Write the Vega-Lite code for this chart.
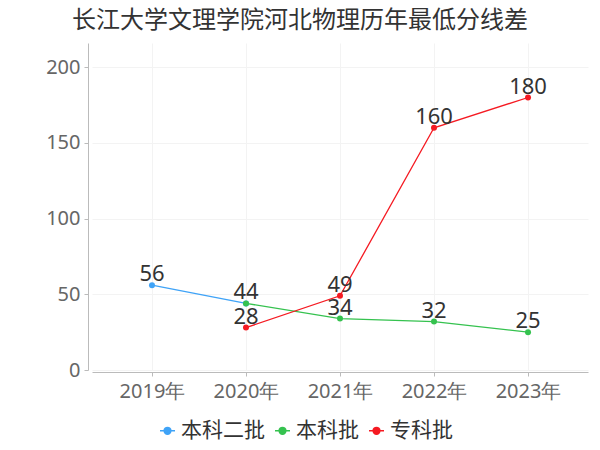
{
  "$schema": "https://vega.github.io/schema/vega-lite/v6.json",
  "autosize": "none",
  "width": 496,
  "height": 327,
  "padding": {"left": 92, "top": 43, "right": 12, "bottom": 80},
  "background": "white",
  "title": {
    "text": "长江大学文理学院河北物理历年最低分线差",
    "fontSize": 24,
    "font": "Noto Sans CJK SC",
    "fontWeight": "normal",
    "color": "#333333",
    "anchor": "middle",
    "dx": -40,
    "offset": 10
  },
  "data": {
    "values": [
      {"year": "2019年", "value": 56, "series": "本科二批"},
      {"year": "2020年", "value": 44, "series": "本科二批"},
      {"year": "2020年", "value": 44, "series": "本科批"},
      {"year": "2021年", "value": 34, "series": "本科批"},
      {"year": "2022年", "value": 32, "series": "本科批"},
      {"year": "2023年", "value": 25, "series": "本科批"},
      {"year": "2020年", "value": 28, "series": "专科批"},
      {"year": "2021年", "value": 49, "series": "专科批"},
      {"year": "2022年", "value": 160, "series": "专科批"},
      {"year": "2023年", "value": 180, "series": "专科批"}
    ]
  },
  "encoding": {
    "x": {
      "field": "year",
      "type": "ordinal",
      "sort": ["2019年", "2020年", "2021年", "2022年", "2023年"],
      "scale": {"type": "point", "padding": 0.638},
      "axis": {
        "title": null,
        "labelAngle": 0,
        "labelFont": "Noto Sans",
        "labelFontSize": 20,
        "labelColor": "#666666",
        "labelPadding": 5,
        "tickSize": 4,
        "tickColor": "#bbbbbb",
        "domainColor": "#bbbbbb",
        "offset": 2,
        "grid": true,
        "gridColor": "#f3f3f3"
      }
    },
    "y": {
      "field": "value",
      "type": "quantitative",
      "scale": {"domain": [0, 216], "nice": false},
      "axis": {
        "title": null,
        "values": [0, 50, 100, 150, 200],
        "labelFont": "Noto Sans",
        "labelFontSize": 20,
        "labelColor": "#666666",
        "labelPadding": 4,
        "tickSize": 4,
        "tickColor": "#bbbbbb",
        "domainColor": "#bbbbbb",
        "offset": 4,
        "grid": true,
        "gridColor": "#f3f3f3"
      }
    },
    "color": {
      "field": "series",
      "type": "nominal",
      "scale": {
        "domain": ["本科二批", "本科批", "专科批"],
        "range": ["#3fa3f7", "#35c24f", "#f51a22"]
      },
      "legend": {
        "title": null,
        "orient": "none",
        "direction": "horizontal",
        "legendX": 65,
        "legendY": 377,
        "labelFont": "Noto Sans CJK SC",
        "labelFontSize": 21,
        "labelColor": "#333333",
        "labelOffset": 3,
        "columnPadding": 7,
        "symbolType": "M -1 0 L -0.45 0 M 0.45 0 L 1 0 M 0.45 0 A 0.45 0.45 0 1 1 -0.45 0 A 0.45 0.45 0 1 1 0.45 0 Z",
        "symbolSize": 225,
        "symbolStrokeWidth": 1.5,
        "symbolOpacity": 1,
        "encode": {
          "symbols": {
            "update": {
              "fill": {"scale": "color", "field": "value"},
              "stroke": {"scale": "color", "field": "value"},
              "fillOpacity": {"value": 1},
              "strokeOpacity": {"value": 1}
            }
          }
        }
      }
    }
  },
  "layer": [
    {
      "mark": {"type": "line", "strokeWidth": 1.3},
      "encoding": {"detail": {"field": "series"}}
    },
    {
      "mark": {"type": "point", "filled": true, "size": 36, "opacity": 1}
    },
    {
      "transform": [{"filter": "!(datum.series == '本科二批' && datum.year == '2020年')"}],
      "mark": {
        "type": "text",
        "font": "Noto Sans",
        "fontSize": 22,
        "baseline": "alphabetic",
        "dy": -4,
        "color": "#333333"
      },
      "encoding": {
        "text": {"field": "value", "type": "quantitative"},
        "color": {"value": "#333333"}
      }
    }
  ],
  "config": {
    "view": {"stroke": null}
  }
}
